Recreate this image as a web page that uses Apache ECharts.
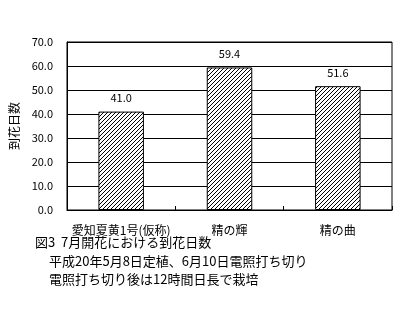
<!DOCTYPE html>
<html>
<head>
<meta charset="utf-8">
<script src="https://cdn.jsdelivr.net/npm/echarts@6/dist/echarts.min.js"></script>
<style>
html,body{margin:0;padding:0;background:#fff;}
#c{width:406px;height:333px;}
</style>
</head>
<body>
<div id="c"></div>
<script>
const categories = ['愛知夏黄1号(仮称)', '精の輝', '精の曲'];
const values = [41.0, 59.4, 51.6];
const yTicks = [0, 10, 20, 30, 40, 50, 60, 70];
const yName = '到花日数';
const captionLines = ['図3  7月開花における到花日数', '平成20年5月8日定植、6月10日電照打ち切り', '電照打ち切り後は12時間日長で栽培'];

const FONT = '"Noto Sans CJK JP", sans-serif';

// hatch pattern (crisp pixel diagonal "/")
const N = 4;
const pc = document.createElement('canvas');
pc.width = N; pc.height = N;
const pctx = pc.getContext('2d');
const img = pctx.createImageData(N, N);
for (let y = 0; y < N; y++) {
  for (let x = 0; x < N; x++) {
    const i = (y * N + x) * 4;
    const on = ((x + y) % N) === N - 1;
    const c = on ? 0 : 255;
    img.data[i] = c; img.data[i + 1] = c; img.data[i + 2] = c; img.data[i + 3] = 255;
  }
}
pctx.putImageData(img, 0, 0);

const chart = echarts.init(document.getElementById('c'), null, {renderer: 'canvas'});
chart.setOption({
  animation: false,
  backgroundColor: '#fff',
  grid: {left: 64, right: 14, top: 42, bottom: 123, show: true, borderColor: '#000', borderWidth: 1, backgroundColor: 'transparent'},
  xAxis: {
    type: 'category',
    data: categories,
    axisLine: {lineStyle: {color: '#000', width: 1}},
    axisTick: {show: true, inside: true, length: 4, lineStyle: {color: '#000'}},
    axisLabel: {color: '#000', fontSize: 12, fontFamily: FONT, margin: 14, interval: 0}
  },
  yAxis: {
    type: 'value',
    min: yTicks[0],
    max: yTicks[yTicks.length - 1],
    interval: 10,
    name: yName,
    nameLocation: 'middle',
    nameGap: 47,
    nameRotate: 90,
    nameTextStyle: {color: '#000', fontSize: 12, fontFamily: FONT},
    axisLine: {show: true, lineStyle: {color: '#000', width: 1}},
    axisTick: {show: false},
    splitLine: {show: true, lineStyle: {color: '#000', width: 1}},
    axisLabel: {color: '#000', fontSize: 11, fontFamily: FONT, margin: 14, formatter: v => v.toFixed(1)}
  },
  series: [{
    type: 'bar',
    data: values,
    barWidth: '42%',
    itemStyle: {color: {image: pc, repeat: 'repeat'}, borderColor: '#000', borderWidth: 1},
    label: {show: true, position: 'top', distance: 8, color: '#000', fontSize: 11, fontFamily: FONT, formatter: p => p.value.toFixed(1)}
  }],
  graphic: [
    {type: 'text', left: 35, top: 236, style: {text: captionLines[0], font: '13px ' + FONT, fill: '#000'}},
    {type: 'text', left: 49, top: 255, style: {text: captionLines[1], font: '13px ' + FONT, fill: '#000'}},
    {type: 'text', left: 49, top: 273, style: {text: captionLines[2], font: '13px ' + FONT, fill: '#000'}}
  ]
});
</script>
</body>
</html>
